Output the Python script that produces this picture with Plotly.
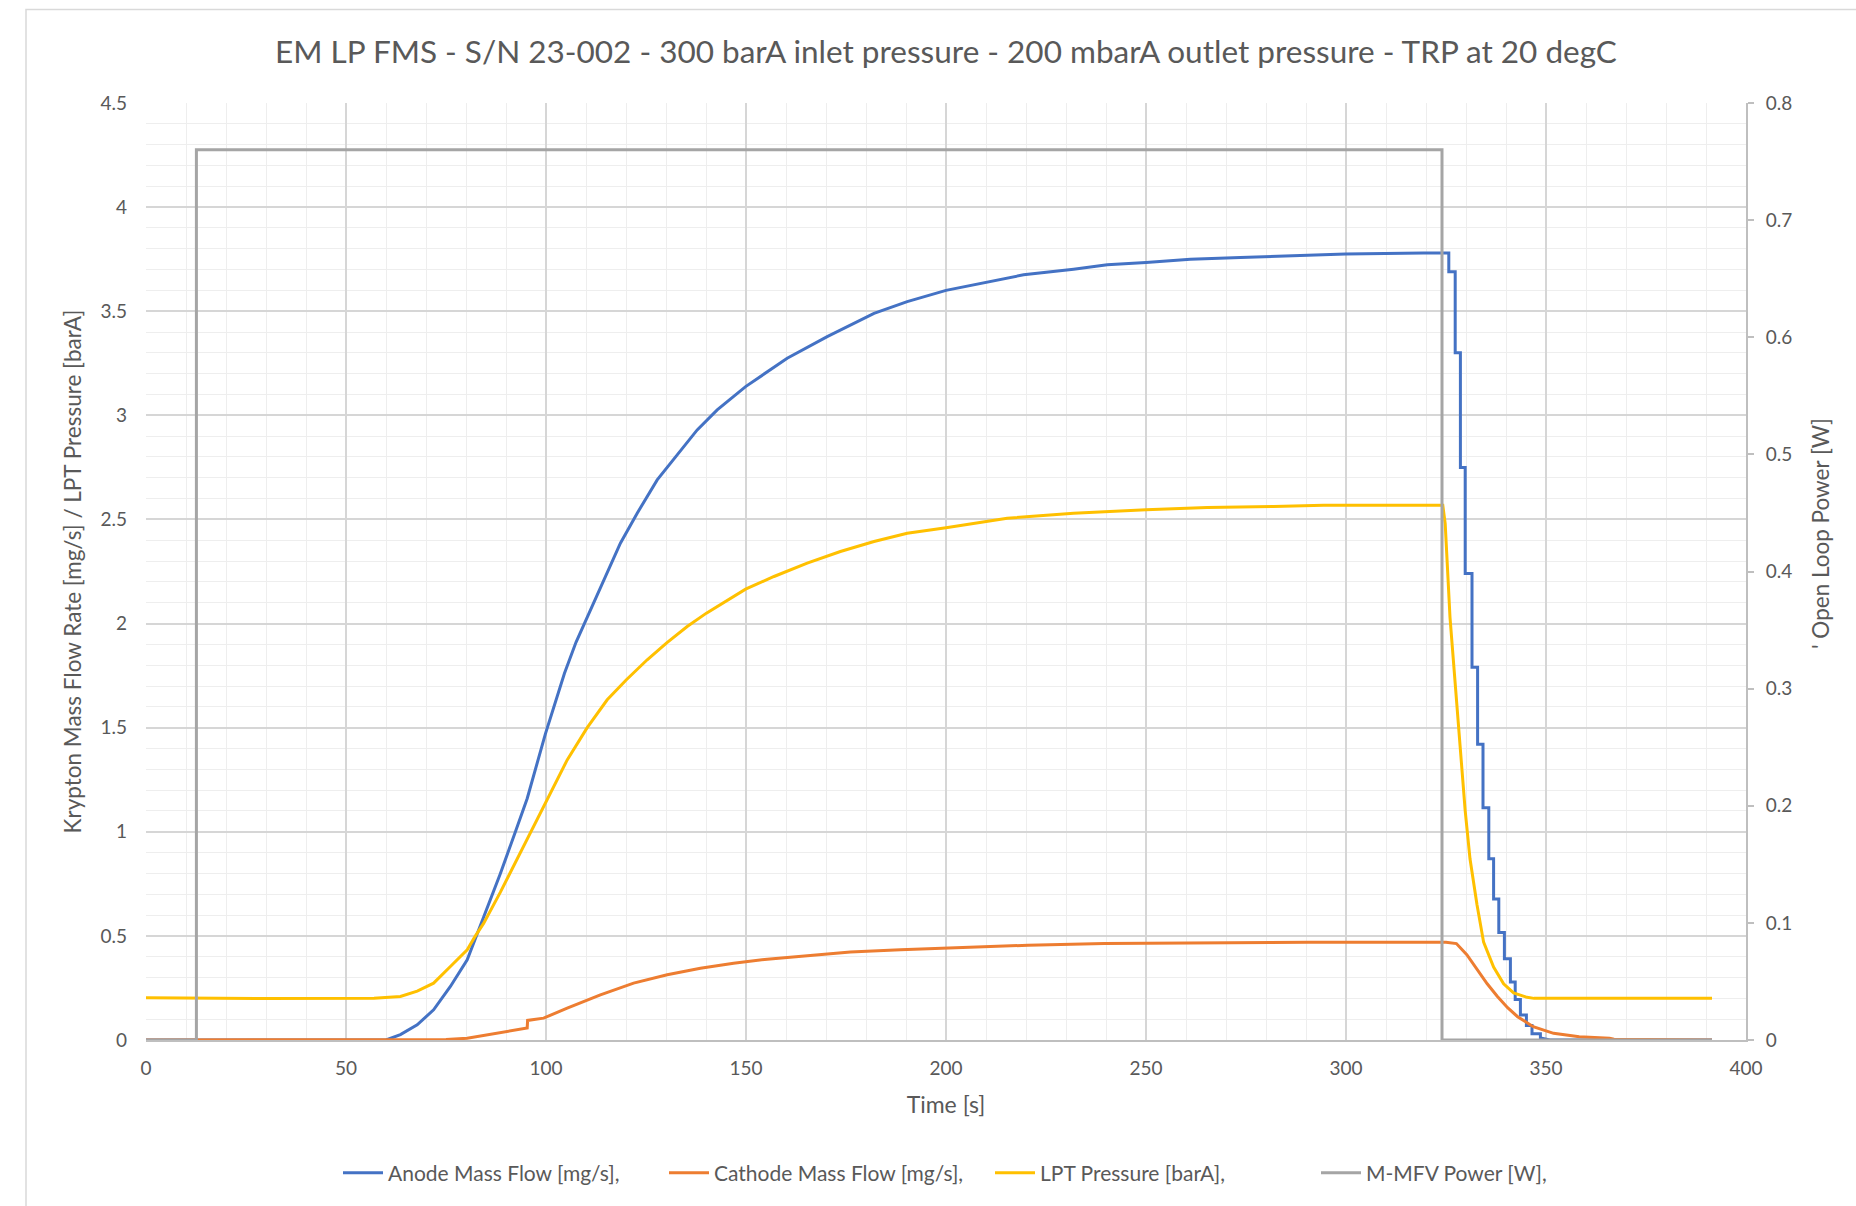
import plotly.graph_objects as go

# ---------------- data ----------------
title_text = "EM LP FMS - S/N 23-002 - 300 barA inlet pressure - 200 mbarA outlet pressure - TRP at 20 degC"

anode_t = [0, 60, 63.6, 67.8, 71.9, 76.1, 80.3, 82.6, 84.4, 88.6, 92.35, 95.3, 99.85, 102, 104.6,
           107.5, 110.4, 113.3, 118.6, 122.8, 127.8, 132.8, 137.8, 142.8, 149.9, 160.3, 170.3, 182,
           190.3, 200, 211.1, 219.4, 231.9, 240.3, 250, 261.1, 273.6, 290.3, 299.9, 319.4,
           325.7, 325.7, 327.3, 327.3, 328.6, 328.6, 329.8, 329.8, 331.5, 331.5, 332.9, 332.9,
           334.25, 334.25, 335.7, 335.7, 336.9, 336.9, 338.2, 338.2, 339.6, 339.6, 341.1, 341.1,
           342.3, 342.3, 343.6, 343.6, 345.1, 345.1, 346.5, 346.5, 348.6, 348.6, 351, 391.5]
anode_v = [0, 0, 0.026, 0.073, 0.145, 0.257, 0.385, 0.5, 0.59, 0.80, 1.0, 1.16, 1.47, 1.60, 1.76,
           1.91, 2.035, 2.16, 2.386, 2.53, 2.69, 2.81, 2.93, 3.026, 3.138, 3.274, 3.378, 3.49,
           3.546, 3.60, 3.643, 3.675, 3.702, 3.723, 3.734, 3.75, 3.758, 3.77, 3.775, 3.78,
           3.78, 3.69, 3.69, 3.30, 3.30, 2.75, 2.75, 2.24, 2.24, 1.79, 1.79, 1.42,
           1.42, 1.115, 1.115, 0.87, 0.87, 0.677, 0.677, 0.516, 0.516, 0.39, 0.39, 0.278,
           0.278, 0.195, 0.195, 0.12, 0.12, 0.07, 0.07, 0.03, 0.03, 0.01, 0, 0]

cathode_t = [0, 12.6, 70, 75, 80.3, 88.6, 95.3, 95.4, 99.4, 105.3, 113.6, 121.9, 130.3, 138.6,
             146.9, 155.3, 163.6, 176.1, 188.6, 201.4, 220.5, 239.6, 265.1, 290.6, 325, 327.6,
             330.2, 332.7, 335.3, 337.8, 340.4, 342.9, 346.8, 351.9, 358.3, 365.9, 367, 391.5]
cathode_v = [0, 0, 0, 0.003, 0.008, 0.034, 0.058, 0.094, 0.105, 0.153, 0.217, 0.273, 0.313, 0.345,
             0.369, 0.388, 0.403, 0.423, 0.433, 0.442, 0.455, 0.463, 0.468, 0.47, 0.47, 0.463,
             0.41, 0.34, 0.27, 0.21, 0.155, 0.112, 0.064, 0.032, 0.016, 0.008, 0.004, 0]

lpt_t = [0, 30, 57, 63.6, 67.8, 71.9, 76.1, 80.3, 82.35, 84.4, 88.6, 92.8, 96.5, 100.3, 105.3,
         110.3, 115.3, 120.1, 125.3, 130.1, 135.3, 140.1, 146.1, 149.9, 157, 165.3, 173.6, 182,
         190.3, 200, 215.3, 231.9, 250, 265.3, 281.9, 294.4, 324.2, 324.8, 326, 327.3, 328.6,
         329.8, 331, 332.75, 334.4, 336.9, 339.4, 341.9, 345.25, 347, 391.5]
lpt_v = [0.203, 0.199, 0.2, 0.209, 0.235, 0.273, 0.353, 0.433, 0.5, 0.56, 0.71, 0.87, 1.01, 1.16,
         1.345, 1.50, 1.634, 1.73, 1.826, 1.906, 1.986, 2.05, 2.122, 2.165, 2.226, 2.29, 2.346,
         2.394, 2.434, 2.46, 2.506, 2.53, 2.546, 2.557, 2.562, 2.568, 2.568, 2.48, 2.03, 1.70,
         1.37, 1.10, 0.87, 0.65, 0.47, 0.35, 0.27, 0.226, 0.205, 0.2, 0.2]

power_t = [0, 12.6, 12.6, 324.0, 324.0, 391.5]
power_v = [0, 0, 0.76, 0.76, 0, 0]

x_ticks = [0, 50, 100, 150, 200, 250, 300, 350, 400]
y_ticks = [0, 0.5, 1, 1.5, 2, 2.5, 3, 3.5, 4, 4.5]
y2_ticks = [0, 0.1, 0.2, 0.3, 0.4, 0.5, 0.6, 0.7, 0.8]

names = ["Anode Mass Flow [mg/s],", "Cathode Mass Flow [mg/s],", "LPT Pressure [barA],", "M-MFV Power [W],"]
colors = ["#4472C4", "#ED7D31", "#FFC000", "#A5A5A5"]

# ---------------- figure ----------------
FONT = "Lato"
TXT = "#595959"
W, H = 1856, 1206
ML, MR, MT, MB = 146, 110, 103, 166
pw, ph = W - ML - MR, H - MT - MB

fig = go.Figure()
fig.add_trace(go.Scatter(x=anode_t, y=anode_v, name=names[0], mode="lines",
                         line=dict(color=colors[0], width=3)))
fig.add_trace(go.Scatter(x=cathode_t, y=cathode_v, name=names[1], mode="lines",
                         line=dict(color=colors[1], width=3)))
fig.add_trace(go.Scatter(x=lpt_t, y=lpt_v, name=names[2], mode="lines",
                         line=dict(color=colors[2], width=3)))
fig.add_trace(go.Scatter(x=power_t, y=power_v, name=names[3], mode="lines", yaxis="y2",
                         line=dict(color=colors[3], width=3)))

grid_major = "#d6d6d6"
grid_minor = "#eeeeee"

fig.update_layout(
    width=W, height=H,
    margin=dict(l=ML, r=MR, t=MT, b=MB, pad=0),
    paper_bgcolor="white", plot_bgcolor="white",
    font=dict(family=FONT, color=TXT, size=19),
    title=dict(text=title_text, x=0.5, xref="paper", xanchor="center",
               y=1 - 52 / H, yref="container", yanchor="middle",
               font=dict(family=FONT, size=31.5, color=TXT)),
    xaxis=dict(range=[0, 400], tickvals=x_ticks, ticks="", showline=True,
               linecolor="#bfbfbf", linewidth=2, zeroline=False,
               showgrid=True, gridcolor=grid_major, gridwidth=1.5,
               minor=dict(dtick=10, showgrid=True, gridcolor=grid_minor, gridwidth=1),
               ticklabelstandoff=10,
               title=dict(text="Time [s]", standoff=19, font=dict(size=23, color=TXT)),
               tickfont=dict(size=19, color=TXT)),
    yaxis=dict(range=[0, 4.5], tickvals=y_ticks, ticks="", showline=False, zeroline=False,
               showgrid=True, gridcolor=grid_major, gridwidth=1.5,
               minor=dict(dtick=0.1, showgrid=True, gridcolor=grid_minor, gridwidth=1),
               ticklabelstandoff=18,
               title=dict(text="Krypton Mass Flow Rate [mg/s] / LPT Pressure [barA]", standoff=12,
                          font=dict(size=22.5, color=TXT)),
               tickfont=dict(size=19, color=TXT)),
    yaxis2=dict(range=[0, 0.8], tickvals=y2_ticks, overlaying="y", side="right",
                showgrid=False, zeroline=False, showline=True, linecolor="#bfbfbf", linewidth=2,
                ticks="outside", ticklen=6, tickcolor="#bfbfbf", tickwidth=1.5,
                ticklabelstandoff=8, tickfont=dict(size=19, color=TXT)),
    legend=dict(orientation="h", x=0.5 + 44 / pw, xanchor="center", y=(H - MB - 1173) / ph,
                yanchor="middle", font=dict(size=21, color=TXT), itemwidth=40,
                entrywidth=271, entrywidthmode="pixels",
                traceorder="normal", bgcolor="rgba(0,0,0,0)"),
    showlegend=True,
)

# right axis title (appears clipped in the original)
fig.add_annotation(text="' Open Loop Power [W]", xref="paper", yref="paper",
                   x=(1820 - ML) / pw, y=(H - MB - 533) / ph,
                   xanchor="center", yanchor="middle", textangle=-90, showarrow=False,
                   font=dict(family=FONT, size=22.5, color=TXT))

# chart-area border
fig.add_shape(type="rect", xref="paper", yref="paper",
              x0=(26 - ML) / pw, x1=(W + 20 - ML) / pw,
              y0=(H - MB - (H + 20)) / ph, y1=(H - MB - 9.5) / ph,
              line=dict(color="#d9d9d9", width=1.5), fillcolor="rgba(0,0,0,0)", layer="below")

fig.write_html("out.html", config={"displayModeBar": False},
               post_script="document.body.style.margin='0';document.body.style.overflow='hidden';")
